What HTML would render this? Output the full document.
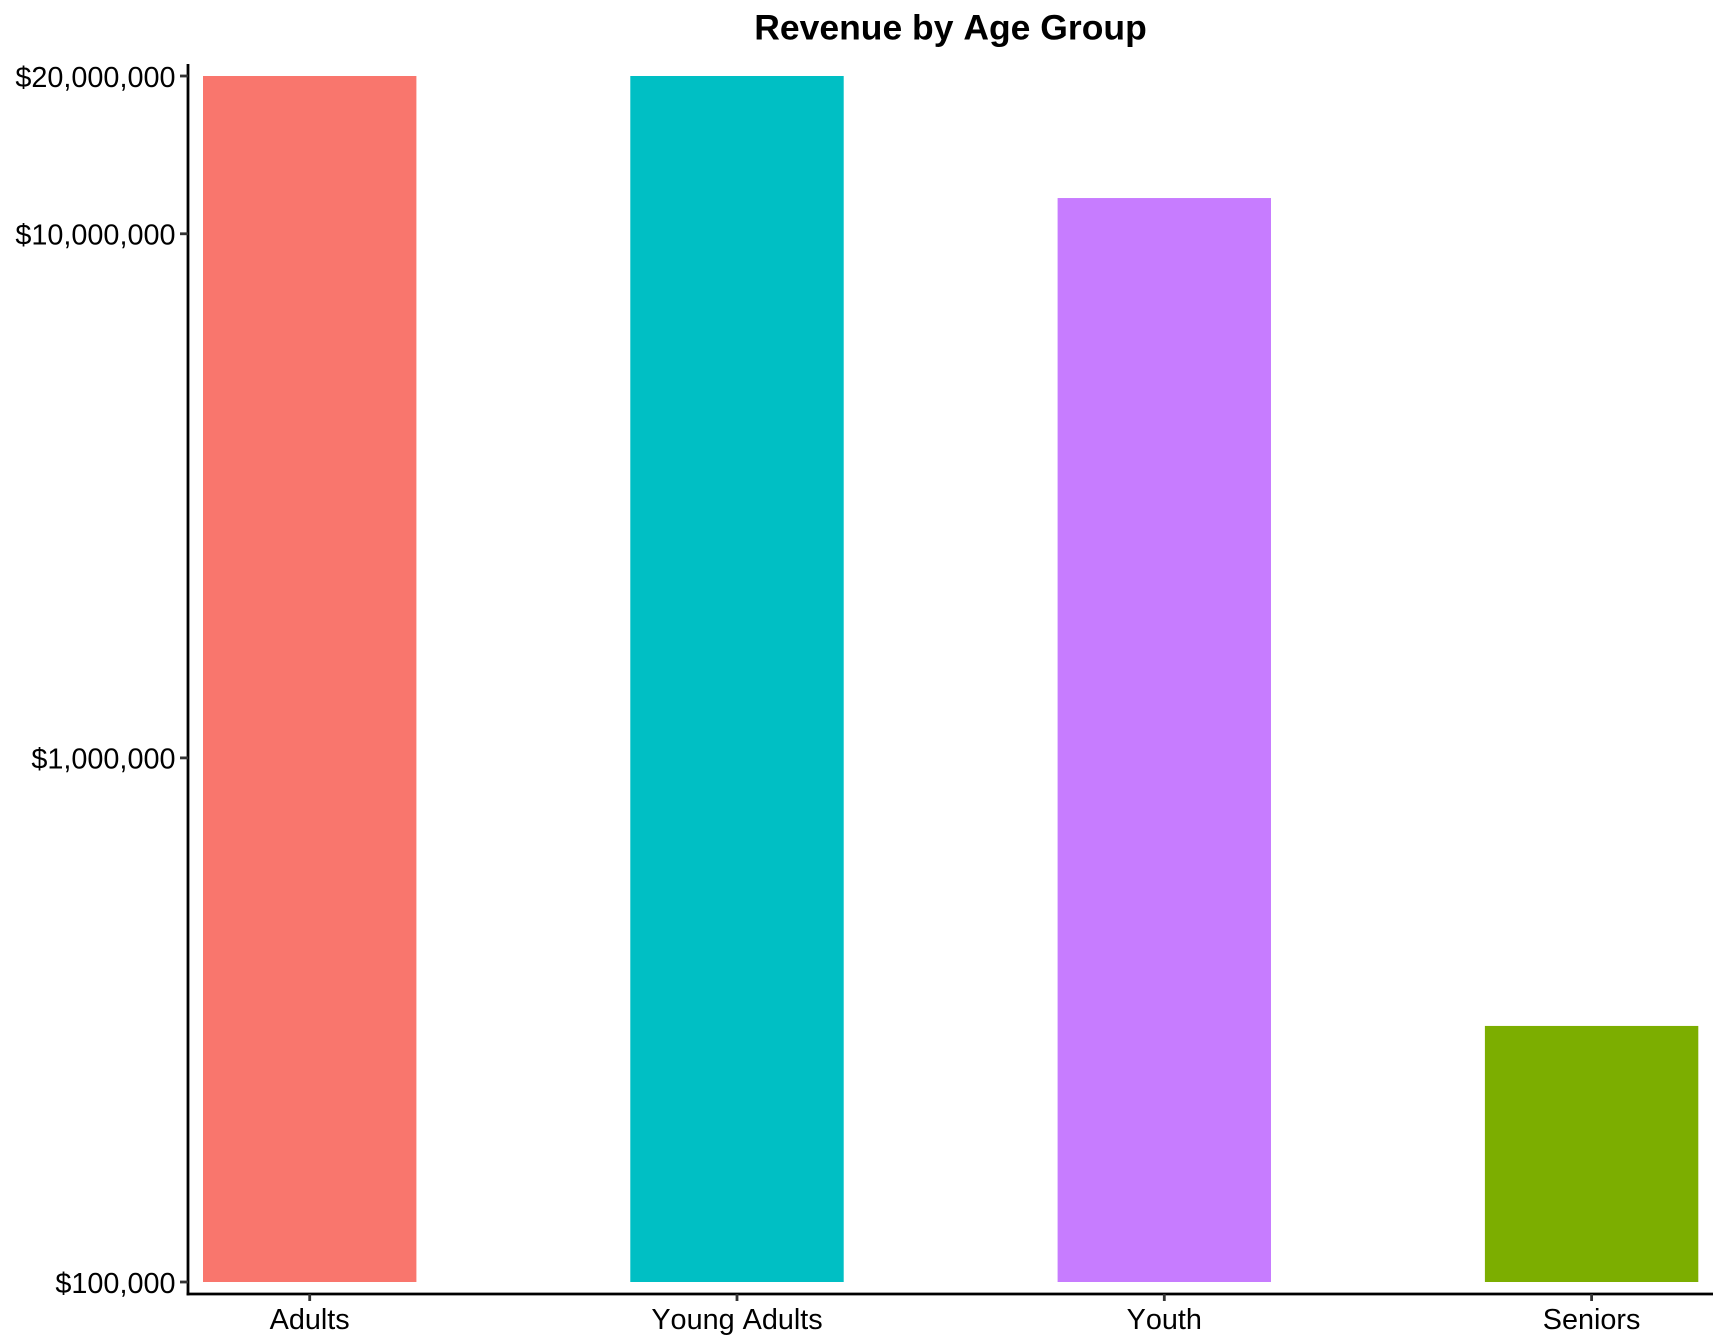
<!DOCTYPE html>
<html lang="en">
<head>
<meta charset="utf-8">
<title>Revenue by Age Group</title>
<style>
  html, body { margin: 0; padding: 0; background: #fff; }
  body { width: 1728px; height: 1344px; overflow: hidden; }
  svg { display: block; }
  text { font-family: "Liberation Sans", Arial, sans-serif; fill: #000; font-kerning: none; }
</style>
</head>
<body>
<svg id="chart" xmlns="http://www.w3.org/2000/svg" width="1728" height="1344" viewBox="0 0 1728 1344">
  <rect x="0" y="0" width="1728" height="1344" fill="#ffffff"></rect>
  <text x="950.5" y="39.5" text-anchor="middle" font-size="35.5" font-weight="700" id="title">Revenue by Age Group</text>
  <g id="bars"></g>
  <g id="axes"></g>
</svg>
<script>
const categories = ["Adults", "Young Adults", "Youth", "Seniors"];
const revenue = [20000000, 20000000, 11700000, 308000];
const barColors = ["#F9766D", "#00BFC4", "#C77CFF", "#7CAE00"];
const yTickValues = [100000, 1000000, 10000000, 20000000];
const yTickLabels = ["$100,000", "$1,000,000", "$10,000,000", "$20,000,000"];

const NS = "http://www.w3.org/2000/svg";
const plot = { left: 188, right: 1713, top: 64, bottom: 1294 };
const yDomain = { min: 100000, max: 20000000, yMin: 1282, yMax: 76 };
const xScale = { first: 309.7, step: 427.3, barWidth: 213.4 };

function yPos(v) {
  const t = (Math.log10(v) - Math.log10(yDomain.min)) / (Math.log10(yDomain.max) - Math.log10(yDomain.min));
  return yDomain.yMin + t * (yDomain.yMax - yDomain.yMin);
}
function xPos(i) {
  return xScale.first + i * xScale.step;
}
function make(tag, attrs, parent) {
  const el = document.createElementNS(NS, tag);
  for (const k in attrs) el.setAttribute(k, attrs[k]);
  parent.appendChild(el);
  return el;
}

const barsGroup = document.getElementById("bars");
const axesGroup = document.getElementById("axes");

categories.forEach(function (cat, i) {
  const top = yPos(revenue[i]);
  const bar = make("rect", {
    x: xPos(i) - xScale.barWidth / 2,
    y: top,
    width: xScale.barWidth,
    height: yDomain.yMin - top,
    fill: barColors[i]
  }, barsGroup);
  
  
});

const yAxis = make("line", { x1: plot.left, x2: plot.left, y1: plot.top, y2: plot.bottom + 1.4, stroke: "#000", "stroke-width": 2.8 }, axesGroup);



const xAxis = make("line", { x1: plot.left - 1.4, x2: plot.right, y1: plot.bottom, y2: plot.bottom, stroke: "#000", "stroke-width": 2.8 }, axesGroup);



yTickValues.forEach(function (v, i) {
  const y = yPos(v);
  const tick = make("line", { x1: 180, x2: plot.left, y1: y, y2: y, stroke: "#333", "stroke-width": 2.8 }, axesGroup);
  
  
  const label = make("text", { x: 175.5, y: y + 10.8, "text-anchor": "end", "font-size": 28.8 }, axesGroup);
  label.textContent = yTickLabels[i];
  
  
});

categories.forEach(function (cat, i) {
  const x = xPos(i);
  const tick = make("line", { x1: x, x2: x, y1: plot.bottom, y2: 1301, stroke: "#333", "stroke-width": 2.8 }, axesGroup);
  
  
  const label = make("text", { x: x, y: 1329, "text-anchor": "middle", "font-size": 28.8 }, axesGroup);
  label.textContent = cat;
  
  
});
</script>
</body>
</html>
